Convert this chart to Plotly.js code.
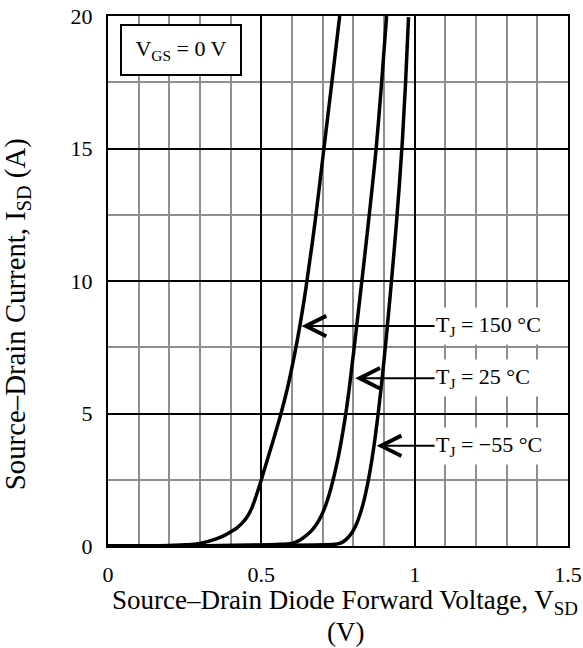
<!DOCTYPE html>
<html>
<head>
<meta charset="utf-8">
<script src="https://cdn.plot.ly/plotly-3.0.1.min.js"></script>
<style>html,body{margin:0;padding:0;background:#fff;}#chart{width:583px;height:648px;}</style>
</head>
<body>
<div id="chart"></div>
<script>
// Source-drain diode forward characteristics
const vsd150 = [0, 0.1, 0.2, 0.25, 0.3, 0.353, 0.38, 0.408, 0.42, 0.43, 0.44, 0.45, 0.46, 0.47, 0.48, 0.49, 0.5, 0.53, 0.563, 0.586, 0.608, 0.627, 0.645, 0.676, 0.703, 0.73, 0.7555];
const isd150 = [0, 0.005, 0.02, 0.045, 0.1, 0.27, 0.4, 0.59, 0.68, 0.78, 0.9, 1.04, 1.22, 1.47, 1.78, 2.13, 2.5, 3.65, 4.95, 6.0, 7.2, 8.4, 9.7, 12.3, 14.9, 17.5, 20];
const vsd25 = [0, 0.3, 0.5, 0.55, 0.592, 0.61, 0.625, 0.645, 0.663, 0.68, 0.696, 0.712, 0.727, 0.75, 0.772, 0.786, 0.8, 0.826, 0.85, 0.874, 0.892, 0.9085];
const isd25 = [0, 0.01, 0.04, 0.06, 0.09, 0.14, 0.22, 0.38, 0.57, 0.82, 1.15, 1.61, 2.18, 3.31, 4.74, 5.89, 7.22, 9.82, 12.3, 14.96, 17.46, 20];
const vsdM55 = [0, 0.5, 0.7, 0.74, 0.755, 0.766, 0.777, 0.789, 0.8, 0.81, 0.82, 0.83, 0.84, 0.85, 0.86, 0.87, 0.88, 0.89, 0.9, 0.91, 0.92, 0.93, 0.94, 0.95, 0.96, 0.97, 0.98];
const isdM55 = [0, 0.02, 0.045, 0.07, 0.1, 0.155, 0.25, 0.4, 0.59, 0.82, 1.13, 1.51, 1.98, 2.55, 3.22, 4.0, 4.9, 5.9, 7.0, 8.18, 9.43, 10.74, 12.11, 13.61, 15.31, 17.41, 19.96];

const seriesLabels = ['T<sub>J</sub> = 150 °C', 'T<sub>J</sub> = 25 °C', 'T<sub>J</sub> = −55 °C'];
// arrow tip points on each curve [V, A]
const arrowTipV = [0.631, 0.806, 0.876];
const arrowTipI = [8.3, 6.33, 3.78];
const labelStartV = 1.065;

const xTickVals = [0, 0.5, 1, 1.5];
const xTickText = ['0', '0.5', '1', '1.5'];
const yTickVals = [0, 5, 10, 15, 20];
const yTickText = ['0', '5', '10', '15', '20'];

const FONT = 'Liberation Serif, Times New Roman, serif';
const lineStyle = {color: '#000', width: 3.5, shape: 'spline', smoothing: 1};

const traces = [
  {x: vsd150, y: isd150, mode: 'lines', line: lineStyle, name: seriesLabels[0], hoverinfo: 'skip'},
  {x: vsd25, y: isd25, mode: 'lines', line: lineStyle, name: seriesLabels[1], hoverinfo: 'skip'},
  {x: vsdM55, y: isdM55, mode: 'lines', line: lineStyle, name: seriesLabels[2], hoverinfo: 'skip'}
];

const annotations = seriesLabels.map((t, i) => ({
  x: arrowTipV[i], y: arrowTipI[i], xref: 'x', yref: 'y',
  ax: labelStartV, ay: arrowTipI[i], axref: 'x', ayref: 'y',
  xanchor: 'left', yanchor: 'middle',
  text: t, showarrow: true, arrowhead: 5, arrowsize: 2.0, arrowwidth: 2, arrowcolor: '#000',
  bgcolor: '#fff', width: 126, height: 36, align: 'left', borderpad: 0,
  font: {family: FONT, size: 22, color: '#000'}
}));
annotations.push({
  x: 0.237, y: 18.72, xref: 'x', yref: 'y', showarrow: false,
  text: 'V<sub>GS</sub> = 0 V', bgcolor: '#fff', bordercolor: '#000', borderwidth: 2,
  width: 116, height: 46, borderpad: 1,
  font: {family: FONT, size: 22, color: '#000'}
});
// y-axis title
annotations.push({
  x: -0.196, y: 0.437, xref: 'paper', yref: 'paper', showarrow: false, textangle: -90,
  xanchor: 'center', yanchor: 'middle',
  text: 'Source–Drain Current, I<sub>SD</sub> (A)',
  font: {family: FONT, size: 28.8, color: '#000'}
});
// x-axis title (two lines), given as pixel rows then converted
const plotTop = 16, plotBottom = 546;
annotations.push({
  x: 0.5157, y: 602, xref: 'paper', yref: 'paper', showarrow: false,
  xanchor: 'center', yanchor: 'middle',
  text: 'Source–Drain Diode Forward Voltage, V<sub>SD</sub>',
  font: {family: FONT, size: 27, color: '#000'}
});
annotations.push({
  x: 0.5157, y: 632, xref: 'paper', yref: 'paper', showarrow: false,
  xanchor: 'center', yanchor: 'middle',
  text: '(V)',
  font: {family: FONT, size: 27, color: '#000'}
});
annotations.slice(-2).forEach(a => { a.y = (plotBottom - a.y) / (plotBottom - plotTop); });

const layout = {
  width: 583, height: 648,
  margin: {l: 108, r: 15, t: plotTop, b: 648 - plotBottom, pad: 0},
  paper_bgcolor: '#fff', plot_bgcolor: '#fff',
  showlegend: false,
  font: {family: FONT, size: 22, color: '#000'},
  xaxis: {
    range: [0, 1.5], tickvals: xTickVals, ticktext: xTickText,
    showgrid: true, gridcolor: '#000', gridwidth: 2,
    minor: {dtick: 0.1, tick0: 0, showgrid: true, gridcolor: '#8e8e8e', gridwidth: 2, ticks: ''},
    showline: true, linecolor: '#000', linewidth: 2, mirror: true,
    ticks: '', ticklabelstandoff: 8, zeroline: false,
    tickfont: {family: FONT, size: 22, color: '#000'}
  },
  yaxis: {
    range: [0, 20], tickvals: yTickVals, ticktext: yTickText,
    showgrid: true, gridcolor: '#000', gridwidth: 2,
    minor: {dtick: 2.5, tick0: 0, showgrid: true, gridcolor: '#8e8e8e', gridwidth: 2, ticks: ''},
    showline: true, linecolor: '#000', linewidth: 2, mirror: true,
    ticks: '', ticklabelstandoff: 9, zeroline: false,
    tickfont: {family: FONT, size: 22, color: '#000'}
  },
  annotations: annotations
};

Plotly.newPlot('chart', traces, layout, {staticPlot: true, displayModeBar: false});
</script>
</body>
</html>
